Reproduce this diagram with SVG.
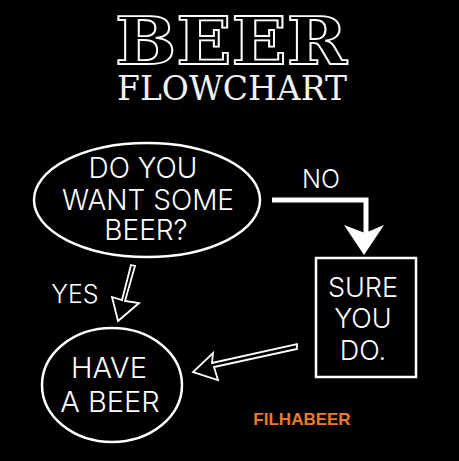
<svg xmlns="http://www.w3.org/2000/svg" width="459" height="461" viewBox="0 0 459 461">
<style>
.t{font-family:Inter,"Liberation Sans",Arial,sans-serif;font-weight:300;fill:#fff;text-anchor:middle}
.shape{fill:none;stroke:#fff;stroke-width:2.5}
.hollow{fill:#000;stroke:#fff;stroke-width:1.8;stroke-linejoin:miter}
</style>
<rect width="459" height="461" fill="#000"/>
<g id="title">
<text x="231" y="64" font-family="'DejaVu Serif',serif" font-weight="bold" font-size="66" fill="#000" stroke="#fff" stroke-width="1.8" textLength="232" lengthAdjust="spacingAndGlyphs" text-anchor="middle">BEER</text>
<text x="232" y="100" font-family="'DejaVu Serif',serif" font-size="33" fill="#f2f2f2" textLength="230" lengthAdjust="spacingAndGlyphs" text-anchor="middle">FLOWCHART</text>
</g>
<g id="connectors">
<g id="edge-no">
<path d="M272 200 H366 V236" fill="none" stroke="#fff" stroke-width="5"/>
<path d="M364 255 L344 225 L365 233 L384 225 Z" fill="#fff"/>
<text class="t" x="321" y="188" font-size="25">NO</text>
</g>
<g id="edge-yes">
<path class="hollow" d="M131 265 L135 266 L125 301 L139 303 L118 321 L112 297 L122 300 Z"/>
<text class="t" x="75" y="303" font-size="25">YES</text>
</g>
<g id="edge-back">
<path class="hollow" d="M297 344 L297 349 L214 367 L218 380 L193 372 L213 353 L212 363 Z"/>
</g>
</g>
<g id="node-question">
<ellipse class="shape" cx="147" cy="200" rx="113" ry="57"/>
<text class="t" x="143" y="178" font-size="28">DO YOU</text>
<text class="t" x="148" y="210" font-size="28">WANT SOME</text>
<text class="t" x="146" y="240" font-size="28">BEER?</text>
</g>
<g id="node-sure">
<rect class="shape" x="316" y="258" width="100" height="119"/>
<text class="t" x="363" y="297" font-size="27">SURE</text>
<text class="t" x="363" y="328" font-size="27">YOU</text>
<text class="t" x="363" y="360" font-size="27">DO.</text>
</g>
<g id="node-beer">
<ellipse class="shape" cx="112" cy="385" rx="70" ry="57"/>
<text class="t" x="109" y="378" font-size="29">HAVE</text>
<text class="t" x="110" y="412" font-size="29">A BEER</text>
</g>
<g id="watermark">
<text x="302" y="425" font-family="'Liberation Sans',Arial,sans-serif" font-weight="bold" font-size="17" fill="#ec7a2c" text-anchor="middle">FILHABEER</text>
</g>
</svg>
